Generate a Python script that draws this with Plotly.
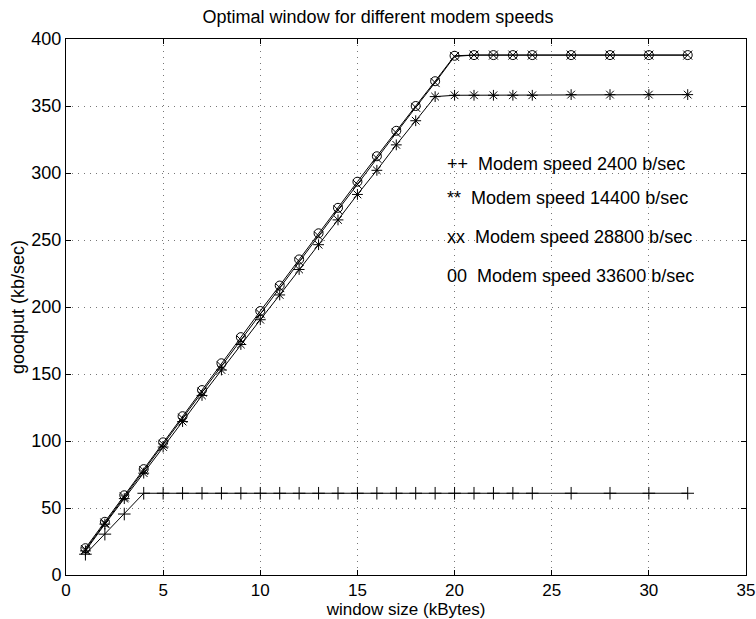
import plotly.graph_objects as go

window_kb = [1, 2, 3, 4, 5, 6, 7, 8, 9, 10, 11, 12, 13, 14, 15, 16, 17, 18, 19, 20,
             21, 22, 23, 24, 26, 28, 30, 32]

goodput_2400 = [15.5, 30.5, 45.5, 61, 61, 61, 61, 61, 61, 61, 61, 61, 61, 61, 61, 61,
                61, 61, 61, 61, 61, 61, 61, 61, 61, 61, 61, 61]
goodput_14400 = [18, 38, 57, 76, 95.5, 114.5, 134, 153, 172, 190.5, 209, 228, 246.5, 265,
                 284, 302, 321, 339, 357, 358, 358, 358, 358, 358, 358.5, 358.5, 358.5, 358.5]
goodput_28800 = [19, 38.8, 58.3, 78, 97.5, 117, 136.5, 156, 175.5, 195, 214.5, 234, 253,
                 272.5, 291.5, 311, 330, 349, 367.5, 387, 388, 388, 388, 388, 388, 388, 388, 388]
goodput_33600 = [20, 39.7, 59.5, 79, 99, 118.5, 138, 158, 177.5, 197, 216, 235.5, 255, 274,
                 293.5, 312.5, 331.5, 350, 368.5, 387.5, 388, 388, 388, 388, 388, 388, 388, 388]

legend_labels = ["++  Modem speed 2400 b/sec", "**  Modem speed 14400 b/sec",
                 "xx  Modem speed 28800 b/sec", "00  Modem speed 33600 b/sec"]
legend_y = [307, 281, 252, 223]

x_ticks = [0, 5, 10, 15, 20, 25, 30, 35]
y_ticks = [0, 50, 100, 150, 200, 250, 300, 350, 400]

FONT = "Liberation Sans, Arial, Helvetica, sans-serif"
FS = 18

series = [
    (goodput_2400, "cross-thin-open"),
    (goodput_14400, "asterisk-open"),
    (goodput_28800, "x-thin-open"),
    (goodput_33600, "circle-open"),
]

fig = go.Figure()
for vals, sym in series:
    fig.add_trace(go.Scatter(
        x=window_kb, y=vals, mode="lines+markers",
        line=dict(color="black", width=1),
        marker=dict(symbol=sym, size=9, color="black", line=dict(color="black", width=1)),
        showlegend=False,
    ))

for txt, yy in zip(legend_labels, legend_y):
    fig.add_annotation(x=19.5, y=yy, xref="x", yref="y", text=txt, showarrow=False,
                       xanchor="left", yanchor="middle",
                       font=dict(family=FONT, size=FS, color="black"))

axis_common = dict(
    showline=True, linecolor="black", linewidth=1, mirror="allticks",
    ticks="inside", ticklen=5, tickcolor="black",
    showgrid=True, gridcolor="#777", griddash="1px,5px", gridwidth=1,
    zeroline=False, automargin=False, ticklabeloverflow="allow",
)

fig.update_xaxes(range=[0, 35], tickvals=x_ticks, **axis_common, ticklabelstandoff=0,
                 tickfont=dict(family=FONT, size=17, color="black"),
                 title=dict(text="window size (kBytes)", standoff=1,
                            font=dict(family=FONT, size=17, color="black")))
fig.update_yaxes(range=[0, 400], tickvals=y_ticks, **axis_common, ticklabelstandoff=0,
                 tickfont=dict(family=FONT, size=FS, color="black"),
                 title=dict(text="goodput (kb/sec)", standoff=2,
                            font=dict(family=FONT, size=FS, color="black")))

fig.update_layout(
    width=756, height=619,
    margin=dict(l=66, r=10, t=39, b=44),
    paper_bgcolor="white", plot_bgcolor="white",
    title=dict(text="Optimal window for different modem speeds", x=0.5, xanchor="center",
               y=1 - 17 / 619, yanchor="middle",
               font=dict(family=FONT, size=FS, color="black")),
)

fig.write_html("out.html")
